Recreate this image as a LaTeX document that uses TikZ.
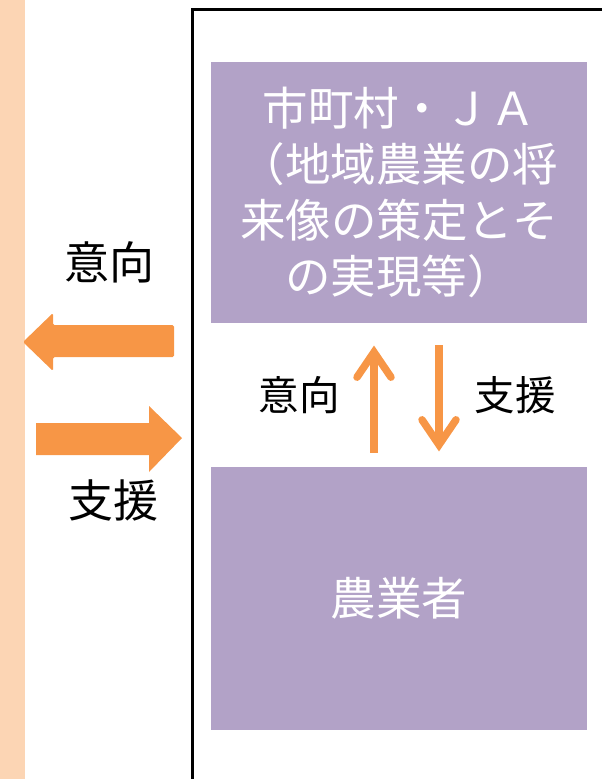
\documentclass[tikz,border=0pt]{standalone}
\usepackage{fontspec}
\setmainfont{Noto Sans CJK JP}
\usetikzlibrary{calc}
\definecolor{peach}{HTML}{FCD5B4}
\definecolor{orng}{HTML}{F79646}
\definecolor{purp}{HTML}{B2A2C7}
\tikzset{
  box/.style={fill=purp, text=white, inner sep=0pt, minimum width=376pt, align=center,
    font=\fontsize{45.5}{56}\selectfont},
  biglabel/.style={inner sep=0pt, text=black, font=\fontsize{45}{50}\selectfont},
  midlabel/.style={inner sep=0pt, text=black, font=\fontsize{40.5}{46}\selectfont},
  midline/.style={draw=orng, line width=7.5pt},
  chev/.style={draw=orng, line width=7.5pt, line cap=round, line join=miter},
  blockarrow/.style={fill=orng}
}
\begin{document}
\begin{tikzpicture}[x=1pt,y=-1pt]
\useasboundingbox (0,0) rectangle (602,779);
\fill[peach] (0,0) rectangle (25,779);
\draw[line width=2.5pt] (192.5,779) -- (192.5,9.7) -- (602,9.7);

\node[box, minimum height=261pt] (top) at (399,192.5)
  {市町村・ＪＡ\\（地域農業の将\\来像の策定とそ\\の実現等）};
\node[box, minimum height=263pt] (bot) at (399,598.5) {農業者};

\node[biglabel] (lint) at (109,262) {意向};
\node[biglabel] (lsup) at (113,500) {支援};
\node[midlabel] (mint) at (299,395) {意向};
\node[midlabel] (msup) at (515,395) {支援};

% up arrow (bot -> top)
\draw[midline] ($(bot.north)+(-25,-14)$) -- ($(top.south)+(-25,32)$);
\draw[chev] ($(top.south)+(-42,54)$) -- ($(top.south)+(-25,29)$) -- ($(top.south)+(-8,54)$);
% down arrow (top -> bot)
\draw[midline] ($(top.south)+(40,22)$) -- ($(bot.north)+(40,-24)$);
\draw[chev] ($(bot.north)+(23,-47)$) -- ($(bot.north)+(40,-22)$) -- ($(bot.north)+(57,-47)$);

\fill[blockarrow, rounded corners=1.5pt] (23,342) -- (53,313) -- (53,325) -- (174,325)
  -- (174,357) -- (53,357) -- (53,371) -- cycle;
\fill[blockarrow] (36,423) -- (149,423) -- (149,406) -- (182,438) -- (149,472)
  -- (149,455) -- (36,455) -- cycle;
\end{tikzpicture}
\end{document}
